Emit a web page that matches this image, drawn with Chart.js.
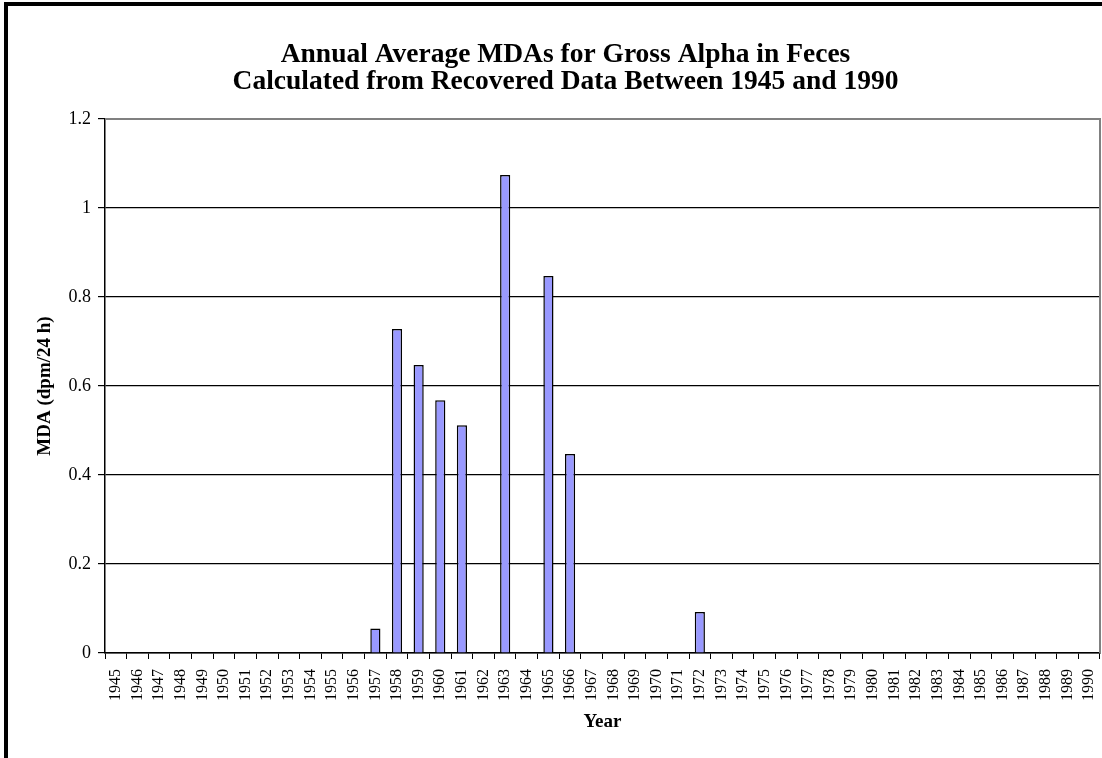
<!DOCTYPE html>
<html>
<head>
<meta charset="utf-8">
<script src="https://cdn.jsdelivr.net/npm/chart.js@4/dist/chart.umd.min.js"></script>
<style>
  body { margin: 0; background: #fff; }
  #wrap { position: relative; width: 1102px; height: 758px; }
  #frame { position: absolute; left: 4px; top: 2px; right: 0; bottom: 0;
           border-top: 4px solid #000; border-left: 4px solid #000; pointer-events: none; }
</style>
</head>
<body>
<div id="wrap">
  <canvas id="mdaChart" width="1102" height="758"></canvas>
  <div id="frame"></div>
</div>
<script>
// Years on the x axis
const years = [];
for (let y = 1945; y <= 1990; y++) years.push(String(y));

// Annual average MDA values (dpm/24 h), only years with a bar
const mdaYears  = ['1957', '1958', '1959', '1960', '1961', '1963', '1965', '1966', '1972'];
const mdaValues = [0.055, 0.728, 0.647, 0.568, 0.512, 1.074, 0.847, 0.447, 0.092];

// Y axis ticks
const yTicks = [0, 0.2, 0.4, 0.6, 0.8, 1, 1.2];

const values = years.map(y => {
    const i = mdaYears.indexOf(y);
    return i >= 0 ? mdaValues[i] : null;
});

const serif = '"Liberation Serif", "Times New Roman", serif';

// gray border on top and right of the plot area
const plotBorder = {
    id: 'plotBorder',
    afterDraw(chart) {
        const { ctx, chartArea: a } = chart;
        ctx.save();
        ctx.strokeStyle = '#808080';
        ctx.lineWidth = 2;
        ctx.beginPath();
        ctx.moveTo(a.left, a.top);
        ctx.lineTo(a.right, a.top);
        ctx.lineTo(a.right, a.bottom);
        ctx.stroke();
        ctx.restore();
    }
};

const ctx = document.getElementById('mdaChart').getContext('2d');

new Chart(ctx, {
    type: 'bar',
    data: {
        labels: years,
        datasets: [{
            label: 'MDA',
            data: values,
            backgroundColor: '#9999ff',
            borderColor: '#000000',
            borderWidth: 1.5,
            barPercentage: 0.47,
            categoryPercentage: 1
        }]
    },
    options: {
        responsive: false,
        animation: false,
        layout: { padding: { left: 31, right: 2, top: 0, bottom: 0 } },
        plugins: {
            legend: { display: false },
            tooltip: { enabled: false },
            title: {
                display: true,
                text: ['Annual Average MDAs for Gross Alpha in Feces',
                       'Calculated from Recovered Data Between 1945 and 1990'],
                color: '#000',
                font: { family: serif, size: 27.5, weight: 'bold', lineHeight: 1.0 },
                padding: { top: 41, bottom: 23 }
            }
        },
        scales: {
            x: {
                grid: {
                    offset: true,
                    drawOnChartArea: false,
                    color: '#000',
                    tickColor: '#000',
                    tickLength: 6
                },
                border: { color: '#000', width: 1.5 },
                ticks: {
                    color: '#000',
                    font: { family: serif, size: 16 },
                    minRotation: 90,
                    maxRotation: 90,
                    autoSkip: false,
                    padding: 10
                },
                title: {
                    display: true,
                    text: 'Year',
                    color: '#000',
                    font: { family: serif, size: 19, weight: 'bold' },
                    padding: { top: 0, bottom: 25 }
                },
                afterFit(scale) {
                    scale.height = 105;
                    scale.paddingLeft = 0;
                    scale.paddingRight = 0;
                }
            },
            y: {
                min: 0,
                max: 1.2,
                afterBuildTicks(scale) { scale.ticks = yTicks.map(v => ({ value: v })); },
                grid: {
                    color: c => (c.tick && c.tick.value === 1.2) ? '#808080' : '#000',
                    tickColor: '#000',
                    tickLength: 7,
                    lineWidth: 1.2
                },
                border: { color: '#000', width: 1.5 },
                ticks: {
                    color: '#000',
                    font: { family: serif, size: 18 },
                    padding: 7,
                    callback: v => String(v)
                },
                title: {
                    display: true,
                    text: 'MDA (dpm/24 h)',
                    color: '#000',
                    font: { family: serif, size: 19, weight: 'bold' },
                    padding: { top: 3, bottom: 0 }
                },
                afterFit(scale) { scale.width = 74; }
            }
        }
    },
    plugins: [plotBorder]
});
</script>
</body>
</html>
